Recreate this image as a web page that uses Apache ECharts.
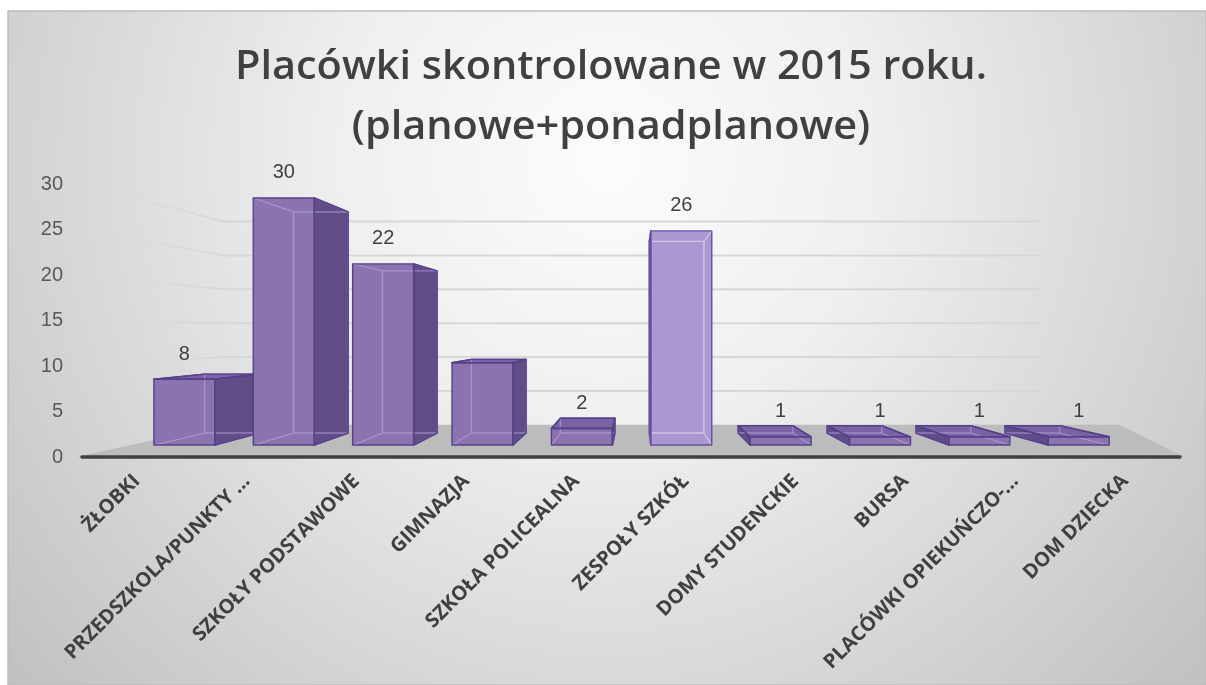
<!DOCTYPE html>
<html>
<head>
<meta charset="utf-8">
<script src="https://cdn.jsdelivr.net/npm/echarts@6/dist/echarts.min.js"></script>
<style>
  html, body { margin: 0; padding: 0; background: #ffffff; }
  #chart { width: 1206px; height: 685px; }
</style>
</head>
<body>
<div id="chart"></div>
<script>
// ---- data ----
const titleLines = ['Placówki skontrolowane w 2015 roku.', '(planowe+ponadplanowe)'];
const categories = [
  'ŻŁOBKI',
  'PRZEDSZKOLA/PUNKTY ...',
  'SZKOŁY PODSTAWOWE',
  'GIMNAZJA',
  'SZKOŁA POLICEALNA',
  'ZESPOŁY SZKÓŁ',
  'DOMY STUDENCKIE',
  'BURSA',
  'PLACÓWKI OPIEKUŃCZO-...',
  'DOM DZIECKA'
];
const values = [8, 30, 22, 10, 2, 26, 1, 1, 1, 1];
const unlabelledCategories = ['GIMNAZJA'];
const yTicks = [0, 5, 10, 15, 20, 25, 30];

// ---- perspective setup (screen space) ----
const VP = [637, 331];                 // vanishing point of the depth axis
const DEPTH = { barFront: 0.905, barBack: 0.81, wall: 0.745 };
const BAR_RATIO = 0.614;               // bar width as share of a category band
const FLOOR_RIGHT_EXTRA = 78;
const HIGHLIGHT_INDEX = 5;             // lighter shaded column

const PALETTE = {
  normal: { front: '#8b73b0', side: '#604c86', top: '#7a63a4', edge: '#55418a', inner: 'rgba(190,172,225,0.55)' },
  light:  { front: '#ab98d2', side: '#8572b0', top: '#9a85c6', edge: '#65519a', inner: 'rgba(220,208,242,0.75)' }
};

function proj(p, s) {
  return [VP[0] + (p[0] - VP[0]) * s, VP[1] + (p[1] - VP[1]) * s];
}

function measure(text, font) {
  const ctx = document.createElement('canvas').getContext('2d');
  ctx.font = font;
  return ctx.measureText(text).width;
}

const TITLE_FONT = '600 40px "Open Sans", "Noto Sans", sans-serif';
const titleScale = 752 / measure(titleLines[0], TITLE_FONT);

// floor, back wall and side wall gridlines
function renderWalls(params, api) {
  const cs = params.coordSys;
  const v = api.value(1);
  const y = api.coord([0, v])[1];
  const fl = [cs.x, y];
  const fr = [cs.x + cs.width, y];
  const bl = proj(fl, DEPTH.wall);
  const br = proj(fr, DEPTH.wall);
  if (v === 0) {
    return {
      type: 'polygon',
      shape: { points: [[fl[0] - 6, fl[1]], [fr[0] + 4, fr[1]], [br[0] + FLOOR_RIGHT_EXTRA, br[1]], bl] },
      style: { fill: '#bcbcbc' }
    };
  }
  const sideStart = [fl[0] + 10, fl[1] + (bl[1] - fl[1]) * 10 / (bl[0] - fl[0])];
  return {
    type: 'group',
    children: [
      {
        type: 'line',
        shape: { x1: sideStart[0], y1: sideStart[1], x2: bl[0], y2: bl[1] },
        style: {
          lineWidth: 2,
          stroke: {
            type: 'linear', global: true,
            x: sideStart[0], y: sideStart[1], x2: bl[0], y2: bl[1],
            colorStops: [
              { offset: 0, color: 'rgba(215,215,215,0)' },
              { offset: 1, color: 'rgba(215,215,215,1)' }
            ]
          }
        }
      },
      {
        type: 'line',
        shape: { x1: bl[0], y1: bl[1], x2: br[0], y2: br[1] },
        style: { stroke: '#d7d7d7', lineWidth: 2 }
      }
    ]
  };
}

function barCorners(api) {
  const i = api.value(0), v = api.value(1);
  const top = api.coord([i, v]);
  const base = api.coord([i, 0]);
  const half = api.size([1, 0])[0] * BAR_RATIO / 2;
  const F = DEPTH.barFront, B = DEPTH.barBack;
  return {
    i: i,
    fTL: proj([top[0] - half, top[1]], F), fTR: proj([top[0] + half, top[1]], F),
    fBL: proj([base[0] - half, base[1]], F), fBR: proj([base[0] + half, base[1]], F),
    bTL: proj([top[0] - half, top[1]], B), bTR: proj([top[0] + half, top[1]], B),
    bBL: proj([base[0] - half, base[1]], B), bBR: proj([base[0] + half, base[1]], B)
  };
}

function poly(points, fill, stroke) {
  return {
    type: 'polygon',
    shape: { points: points },
    style: { fill: fill, stroke: stroke || null, lineWidth: 1.4, lineJoin: 'round' }
  };
}
function seg(a, b, color, w) {
  return { type: 'line', shape: { x1: a[0], y1: a[1], x2: b[0], y2: b[1] }, style: { stroke: color, lineWidth: w } };
}

function renderBar(params, api) {
  const c = barCorners(api);
  const pal = c.i === HIGHLIGHT_INDEX ? PALETTE.light : PALETTE.normal;
  const kids = [];
  let side = null;
  if (c.fTR[0] < VP[0]) side = [c.fTR, c.bTR, c.bBR, c.fBR];
  else if (c.fTL[0] > VP[0]) side = [c.fTL, c.bTL, c.bBL, c.fBL];
  if (side) kids.push(poly(side, pal.side, pal.edge));
  const topVisible = c.fTL[1] > c.bTL[1];
  if (topVisible) kids.push(poly([c.fTL, c.fTR, c.bTR, c.bTL], pal.top, pal.edge));
  kids.push(poly([c.fTL, c.fTR, c.fBR, c.fBL], pal.front, null));
  // edges seen through the translucent faces
  kids.push(poly([c.bTL, c.bTR, c.bBR, c.bBL], null, pal.inner));
  kids.push(seg(c.fBL, c.bBL, pal.inner, 1.3));
  kids.push(seg(c.fBR, c.bBR, pal.inner, 1.3));
  if (!topVisible) {
    kids.push(seg(c.fTL, c.bTL, pal.inner, 1.3));
    kids.push(seg(c.fTR, c.bTR, pal.inner, 1.3));
  }
  // outline of the front face
  kids.push(poly([c.fTL, c.fTR, c.fBR, c.fBL], null, pal.edge));
  if (side) kids.push(poly(side, null, pal.edge));
  if (topVisible) kids.push(poly([c.fTL, c.fTR, c.bTR, c.bTL], null, pal.edge));
  return { type: 'group', children: kids };
}

function renderLabel(params, api) {
  const c = barCorners(api);
  return {
    type: 'text',
    x: (c.fTL[0] + c.fTR[0]) / 2,
    y: c.fTL[1] - 25,
    style: {
      text: String(api.value(1)),
      fill: '#404040',
      font: '20px "Liberation Sans", Arial, sans-serif',
      align: 'center',
      verticalAlign: 'middle'
    }
  };
}

const barData = values.map((v, i) => [i, v]);
const labelData = barData.filter(d => unlabelledCategories.indexOf(categories[d[0]]) < 0);

const chart = echarts.init(document.getElementById('chart'), null, { renderer: 'canvas' });
chart.setOption({
  animation: false,
  backgroundColor: '#ffffff',
  grid: { left: 82, right: 26, top: 184, bottom: 228, outerBoundsMode: 'none', containLabel: false },
  xAxis: {
    type: 'category',
    data: categories,
    axisLine: { show: true, lineStyle: { color: '#404040', width: 3.5 } },
    axisTick: { show: false },
    splitLine: { show: false },
    axisLabel: {
      interval: 0,
      rotate: 45,
      margin: 21,
      color: '#404040',
      fontFamily: '"Open Sans", "Noto Sans", sans-serif',
      fontWeight: 'bold',
      fontSize: 20
    },
    z: 3
  },
  yAxis: {
    type: 'value',
    min: yTicks[0],
    max: yTicks[yTicks.length - 1],
    interval: yTicks[1] - yTicks[0],
    axisLine: { show: false },
    axisTick: { show: false },
    splitLine: { show: false },
    axisLabel: {
      margin: 19,
      color: '#595959',
      fontFamily: '"Liberation Sans", Arial, sans-serif',
      fontSize: 20
    }
  },
  graphic: [
    {
      type: 'rect', z: -10, silent: true,
      shape: { x: 8, y: 11, width: 1198, height: 674 },
      style: {
        fill: {
          type: 'radial', x: 0.5, y: 0.22, r: 1.15,
          colorStops: [
            { offset: 0, color: '#fcfcfc' },
            { offset: 0.35, color: '#efefef' },
            { offset: 1, color: '#c2c2c2' }
          ]
        },
        stroke: '#bdbdbd', lineWidth: 1.5
      }
    },
    {
      type: 'text', z: 100, x: 611, y: 68, scaleX: titleScale,
      style: { text: titleLines[0], font: TITLE_FONT, fill: '#404040', align: 'center', verticalAlign: 'middle' }
    },
    {
      type: 'text', z: 100, x: 611, y: 128, scaleX: titleScale,
      style: { text: titleLines[1], font: TITLE_FONT, fill: '#404040', align: 'center', verticalAlign: 'middle' }
    }
  ],
  series: [
    {
      type: 'custom', name: 'walls', silent: true, z: 1,
      data: yTicks.map(v => [0, v]),
      renderItem: renderWalls
    },
    {
      type: 'custom', name: 'Placówki', silent: true, z: 5,
      data: barData,
      renderItem: renderBar
    },
    {
      type: 'custom', name: 'etykiety', silent: true, z: 6,
      data: labelData,
      renderItem: renderLabel
    }
  ]
});
</script>
</body>
</html>
